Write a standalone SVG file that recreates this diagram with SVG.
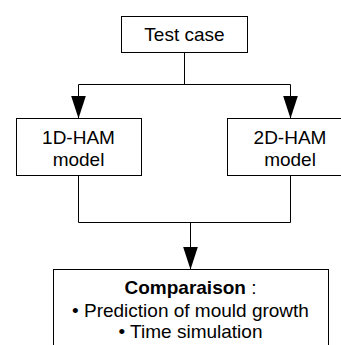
<svg xmlns="http://www.w3.org/2000/svg" width="341" height="345" viewBox="0 0 341 345">
<style>
.box{fill:#fff;stroke:#000;stroke-width:1}
.ln{fill:none;stroke:#000;stroke-width:1}
text{font-family:"Liberation Sans",Arial,sans-serif;font-size:19px;fill:#000;text-anchor:middle}
.b{font-weight:bold}
</style>
<defs>
<marker id="ah" markerUnits="userSpaceOnUse" markerWidth="23" markerHeight="15" refX="23" refY="7.5" orient="auto" viewBox="0 0 23 15">
<path d="M0,0 L23,7.5 L0,15 Z" fill="#000"/>
</marker>
</defs>
<rect width="341" height="345" fill="#fff"/>
<g id="connectors">
<path class="ln" d="M184.5,52.5 V84.5 M78.5,84.5 H290.5"/>
<path class="ln" d="M78.5,84.5 V95 L78.5,118.5" marker-end="url(#ah)"/>
<path class="ln" d="M290.5,84.5 V95 L290.5,118.5" marker-end="url(#ah)"/>
<path class="ln" d="M78.5,175.5 V222.5 H290.5 V175.5"/>
<path class="ln" d="M190.5,222.5 V246 L190.5,269.5" marker-end="url(#ah)"/>
</g>
<g id="test-case">
<rect class="box" x="121.5" y="16.5" width="126" height="36"/>
<text x="184.5" y="40.5">Test case</text>
</g>
<g id="model-1d">
<rect class="box" x="16.5" y="118.5" width="125" height="57"/>
<text x="78.5" y="144">1D-HAM</text>
<text x="78.5" y="166">model</text>
</g>
<g id="model-2d">
<rect class="box" x="227.5" y="118.5" width="125" height="57"/>
<text x="290" y="144">2D-HAM</text>
<text x="290" y="166">model</text>
</g>
<g id="comparaison">
<rect class="box" x="53.5" y="269.5" width="275" height="90"/>
<text x="190.5" y="294"><tspan class="b">Comparaison</tspan> :</text>
<text x="190.5" y="316.5">• Prediction of mould growth</text>
<text x="190.5" y="338">• Time simulation</text>
</g>
</svg>
